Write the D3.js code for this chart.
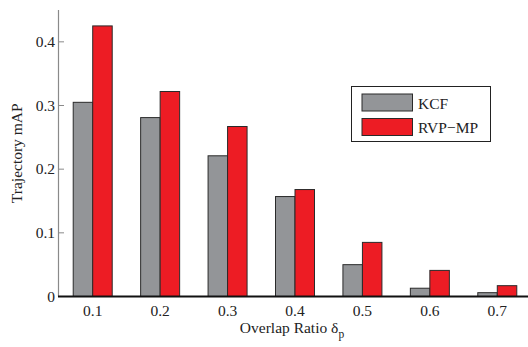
<!DOCTYPE html>
<html>
<head>
<meta charset="utf-8">
<script src="https://cdn.jsdelivr.net/npm/d3@7"></script>
<style>
  body { margin: 0; background: #fff; }
  svg { display: block; font-family: "Liberation Serif", "Times New Roman", serif; }
</style>
</head>
<body>
<div id="chart"></div>
<script>
// Values
const categories = ['0.1', '0.2', '0.3', '0.4', '0.5', '0.6', '0.7'];
const kcf = [0.305, 0.281, 0.221, 0.157, 0.050, 0.013, 0.006];
const rvp = [0.425, 0.322, 0.267, 0.168, 0.085, 0.041, 0.017];
const seriesNames = ['KCF', 'RVP\u2212MP'];
const yTicks = [0, 0.1, 0.2, 0.3, 0.4];

const width = 528, height = 347;
const colors = ['#939598', '#ed1c24'];
const fs = 15.5;

const svg = d3.select('#chart')
  .append('svg')
  .attr('width', width)
  .attr('height', height);

// MATLAB style axes: group i sits at i+1, limits half a group either side
const x = d3.scaleLinear().domain([0.5, 7.5]).range([59, 531]);
const y = d3.scaleLinear().domain([0, 0.45]).range([296.5, 10]);
const barW = 19.5;

// y axis line, gray, ticks pointing inward
svg.append('line')
  .attr('x1', 58.5).attr('x2', 58.5)
  .attr('y1', y(0.45)).attr('y2', y(0))
  .attr('stroke', '#8a8a8a').attr('stroke-width', 1.2);

svg.selectAll('.ytick')
  .data(yTicks)
  .enter().append('line')
  .attr('class', 'ytick')
  .attr('x1', 58.5).attr('x2', 64)
  .attr('y1', d => y(d)).attr('y2', d => y(d))
  .attr('stroke', '#8a8a8a');

svg.selectAll('.ylab')
  .data(yTicks)
  .enter().append('text')
  .attr('class', 'ylab')
  .attr('x', 55)
  .attr('y', d => y(d) + 5)
  .attr('text-anchor', 'end')
  .attr('font-size', fs)
  .attr('fill', '#222')
  .text(d => d === 0 ? '0' : d3.format('.1f')(d));

// bars
const groups = svg.selectAll('.grp')
  .data(categories)
  .enter().append('g')
  .attr('class', 'grp');

[kcf, rvp].forEach((vals, s) => {
  groups.append('rect')
    .attr('x', (d, i) => x(i + 1) - barW + s * barW)
    .attr('y', (d, i) => y(vals[i]))
    .attr('width', barW)
    .attr('height', (d, i) => y(0) - y(vals[i]))
    .attr('fill', colors[s])
    .attr('stroke', '#2a2a2a')
    .attr('stroke-width', 1);
});

// baseline
svg.append('line')
  .attr('x1', 58).attr('x2', x(7.5))
  .attr('y1', y(0)).attr('y2', y(0))
  .attr('stroke', '#111').attr('stroke-width', 2.2);

// x tick labels
svg.selectAll('.xlab')
  .data(categories)
  .enter().append('text')
  .attr('class', 'xlab')
  .attr('x', (d, i) => x(i + 1))
  .attr('y', 316)
  .attr('text-anchor', 'middle')
  .attr('font-size', fs)
  .attr('fill', '#222')
  .text(d => d);

// axis titles
const xt = svg.append('text')
  .attr('x', 292)
  .attr('y', 333)
  .attr('text-anchor', 'middle')
  .attr('font-size', fs)
  .attr('fill', '#222');
xt.append('tspan').text('Overlap Ratio \u03b4');
xt.append('tspan').attr('font-size', 11.5).attr('dy', 5).text('p');

svg.append('text')
  .attr('transform', 'translate(22,' + ((y(0.45) + y(0)) / 2) + ') rotate(-90)')
  .attr('text-anchor', 'middle')
  .attr('font-size', fs)
  .attr('fill', '#222')
  .text('Trajectory mAP');

// legend
const lg = svg.append('g');
lg.append('rect')
  .attr('x', 351.5).attr('y', 86.5)
  .attr('width', 139).attr('height', 55)
  .attr('fill', '#fff')
  .attr('stroke', '#222').attr('stroke-width', 1);

seriesNames.forEach((name, s) => {
  lg.append('rect')
    .attr('x', 362).attr('y', 94 + s * 24.5)
    .attr('width', 50.5).attr('height', 17)
    .attr('fill', colors[s])
    .attr('stroke', '#2a2a2a');
  lg.append('text')
    .attr('x', 418).attr('y', 108.5 + s * 24.5)
    .attr('font-size', fs)
    .attr('fill', '#222')
    .text(name);
});
</script>
</body>
</html>
